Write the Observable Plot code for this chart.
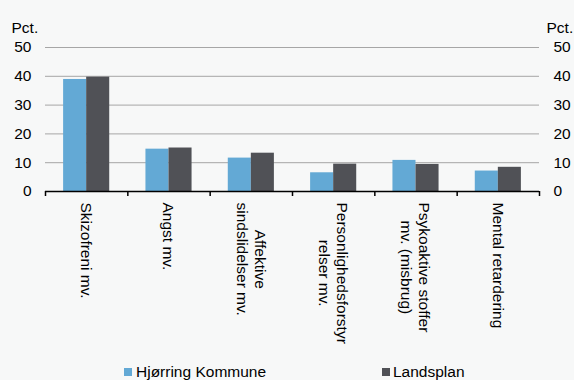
<!DOCTYPE html>
<html>
<head>
<meta charset="utf-8">
<script src="https://cdn.jsdelivr.net/npm/d3@7"></script>
<script src="https://cdn.jsdelivr.net/npm/@observablehq/plot@0.6"></script>
<style>
  html, body { margin: 0; padding: 0; background: #f7f8f8; }
  body { width: 574px; height: 380px; overflow: hidden; font-family: "Liberation Sans", Arial, sans-serif; }
  #legend { position: relative; height: 20px; font-size: 15.5px; line-height: 20px; color: #000; }
  #legend .item { position: absolute; top: 2px; white-space: nowrap; }
  #legend .sw { position: absolute; top: 8px; width: 8px; height: 8px; }
</style>
</head>
<body>
<div id="chart"></div>
<div id="legend"></div>
<script>
const categories = [
  "Skizofreni mv.",
  "Angst mv.",
  "Affektive\nsindslidelser mv.",
  "Personlighedsforstyr\nrelser mv.",
  "Psykoaktive stoffer\nmv. (misbrug)",
  "Mental retardering"
];
const seriesNames = ["Hjørring Kommune", "Landsplan"];
const hjorring = [38.9, 14.7, 11.6, 6.5, 10.8, 7.1];
const landsplan = [39.7, 15.1, 13.3, 9.5, 9.4, 8.4];
const yTicks = [0, 10, 20, 30, 40, 50];
const colors = ["#63a9d5", "#505156"];

const font = "15.5px 'Liberation Sans', Arial, sans-serif";
const ctx = document.createElement("canvas").getContext("2d");
ctx.font = font;
const maxLineWidth = s => d3.max(s.split("\n"), l => ctx.measureText(l).width);

const rows = [];
categories.forEach((c, i) => {
  rows.push({i, cat: c, series: seriesNames[0], value: hjorring[i], x1: i + 0.22, x2: i + 0.5});
  rows.push({i, cat: c, series: seriesNames[1], value: landsplan[i], x1: i + 0.5, x2: i + 0.78});
});

const labelMarks = categories.map((c, i) =>
  Plot.text([c], {
    x: () => i + 0.5,
    frameAnchor: "bottom",
    dy: 11 + maxLineWidth(c) / 2,
    rotate: 90,
    textAnchor: "middle",
    lineAnchor: "middle",
    lineHeight: 1.16,
    fill: "#000"
  })
);

const chart = Plot.plot({
  width: 574,
  height: 360,
  marginLeft: 45,
  marginRight: 35,
  marginTop: 47,
  marginBottom: 169,
  style: {fontSize: "15.5px", fontFamily: "'Liberation Sans', Arial, sans-serif", background: "transparent", color: "#000"},
  x: {domain: [0, categories.length], axis: null},
  y: {domain: [0, 50], axis: null},
  color: {domain: seriesNames, range: colors},
  marks: [
    Plot.ruleY(yTicks.filter(d => d > 0), {stroke: "#a6a6a6", strokeWidth: 1}),
    Plot.rectY(rows, {x1: "x1", x2: "x2", y1: 0, y2: "value", fill: "series"}),
    Plot.ruleY([0], {stroke: "#000", strokeWidth: 1.5}),
    Plot.axisX({ticks: d3.range(categories.length + 1), tickSize: 5, tickFormat: () => "", stroke: "#000", strokeWidth: 1.5}),
    Plot.axisY({anchor: "left", ticks: yTicks, tickSize: 0, tickPadding: 14, label: null}),
    Plot.axisY({anchor: "right", ticks: yTicks, tickSize: 0, tickPadding: 14, label: null}),
    Plot.text(["Pct."], {frameAnchor: "top-left", dx: -34, dy: -26, textAnchor: "start", fill: "#000"}),
    Plot.text(["Pct."], {frameAnchor: "top-right", dx: 7, dy: -26, textAnchor: "start", fill: "#000"}),
    ...labelMarks
  ]
});
document.getElementById("chart").appendChild(chart);

const legend = document.getElementById("legend");
const legendPos = [[124, 136], [382, 393]];
seriesNames.forEach((s, k) => {
  const sw = document.createElement("div");
  sw.className = "sw";
  sw.style.left = legendPos[k][0] + "px";
  sw.style.background = colors[k];
  legend.appendChild(sw);
  const t = document.createElement("span");
  t.className = "item";
  t.style.left = legendPos[k][1] + "px";
  t.textContent = s;
  legend.appendChild(t);
});
</script>
</body>
</html>
